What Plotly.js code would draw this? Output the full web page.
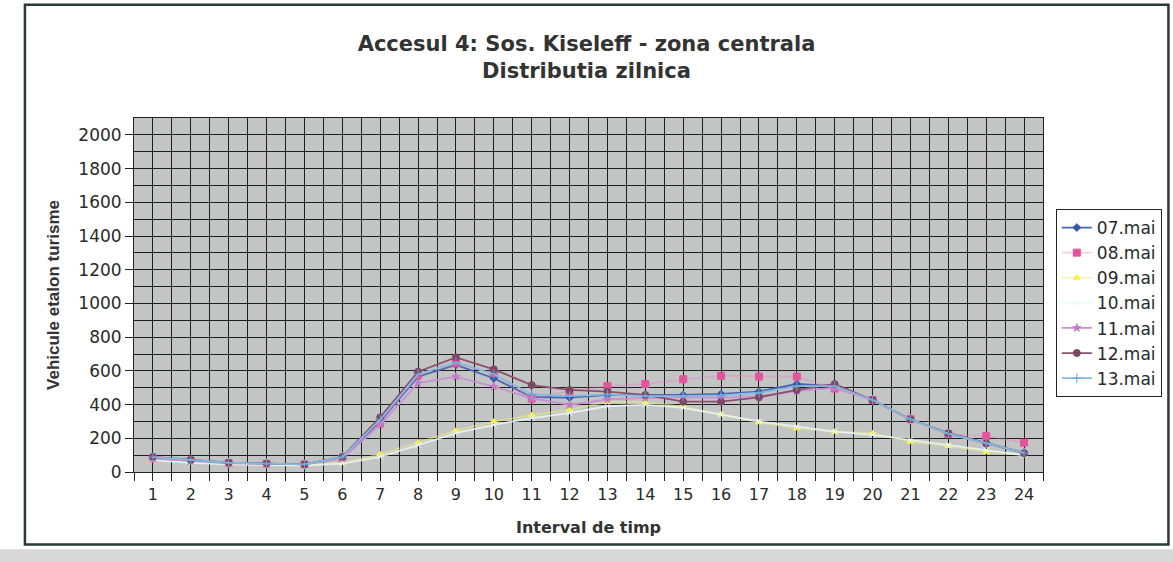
<!DOCTYPE html>
<html>
<head>
<meta charset="utf-8">
<script src="https://cdn.plot.ly/plotly-3.0.1.min.js"></script>
<style>html,body{margin:0;padding:0;background:#fff;}#chart{width:1173px;height:562px;}</style>
</head>
<body>
<div id="chart"></div>
<script>
var intervals = [1,2,3,4,5,6,7,8,9,10,11,12,13,14,15,16,17,18,19,20,21,22,23,24];
var seriesNames = ["07.mai","08.mai","09.mai","10.mai","11.mai","12.mai","13.mai"];
var mai07 = [85,70,55,50,45,85,300,565,635,556,445,441,457,457,457,463,477,522,510,427,313,230,174,115];
var mai08 = [80,68,52,48,45,80,290,575,645,586,435,480,510,522,550,570,566,566,495,427,313,225,214,174];
var mai09 = [75,60,48,42,40,55,105,175,245,299,338,368,417,415,388,342,295,259,239,230,180,154,120,100];
var mai10 = [70,55,45,40,38,50,90,160,230,280,320,350,390,400,380,340,300,270,240,220,190,160,130,100];
var mai11 = [80,65,52,48,45,80,280,528,566,506,437,398,430,440,445,440,450,480,500,427,313,225,170,115];
var mai12 = [90,72,55,50,45,90,324,595,680,609,516,487,477,457,417,417,443,487,522,427,313,230,170,111];
var mai13 = [88,70,55,50,45,88,310,580,650,580,460,450,460,450,450,455,470,510,510,427,313,228,172,113];
var yTickVals = [0,200,400,600,800,1000,1200,1400,1600,1800,2000];

var values = [mai07, mai08, mai09, mai10, mai11, mai12, mai13];
var lineColors = ["#4a64b4","rgba(230,120,190,0.35)","rgba(240,240,120,0.5)","rgba(235,250,250,0.8)","#c890d4","#8c5070","#84bce0"];
var markerColors = ["#3c56a8","#e4549c","#f4f048","#e6f6f6","#c47cc8","#7e4864","#6aa8d8"];
var symbols = ["diamond","square","triangle-up","x-thin-open","star","circle","cross-thin-open"];
var sizes = [6,7,6,6,6,7,7];

var baseFont = "'DejaVu Sans', Arial, sans-serif";

var traces = seriesNames.map(function(n,i){
  return {
    x: intervals, y: values[i], name: n, type: "scatter", mode: "lines+markers",
    line: {color: lineColors[i], width: 1.8},
    marker: {color: markerColors[i], symbol: symbols[i], size: sizes[i], line:{color: markerColors[i], width:1}}
  };
});

var layout = {
  width: 1173, height: 562,
  paper_bgcolor: "#ffffff",
  plot_bgcolor: "#c3c5c5",
  margin: {l: 134, r: 129, t: 118, b: 90},
  font: {family: baseFont, color: "#2a2a2a"},
  title: {
    text: "<b>Accesul 4: Sos. Kiseleff - zona centrala<br>Distributia zilnica</b>",
    font: {size: 21, color: "#333", family: baseFont},
    x: 0.5, xref: "container", y: 0.909, yanchor: "top"
  },
  xaxis: {
    range: [0.5, 24.5], tickmode: "array", tickvals: intervals,
    ticktext: intervals.map(String),
    showgrid: true, gridcolor: "#1e1e1e", gridwidth: 1,
    minor: {dtick: 0.5, tick0: 0.5, showgrid: true, gridcolor: "#1e1e1e", gridwidth: 1, ticks: "outside", ticklen: 8, tickcolor: "#222"},
    ticks: "outside", ticklen: 8, tickcolor: "#222",
    tickfont: {size: 16, color: "#2a2a2a"},
    showline: true, linecolor: "#222", linewidth: 1, mirror: true,
    zeroline: false,
    title: {text: "<b>Interval de timp</b>", font: {size: 16, color: "#333"}, standoff: 18}
  },
  yaxis: {
    range: [0, 2100], tickmode: "array", tickvals: yTickVals,
    showgrid: true, gridcolor: "#1e1e1e", gridwidth: 1,
    minor: {dtick: 100, tick0: 0, showgrid: true, gridcolor: "#1e1e1e", gridwidth: 1},
    ticks: "outside", ticklen: 8, tickcolor: "#222",
    tickfont: {size: 17, color: "#2a2a2a"},
    showline: true, linecolor: "#222", linewidth: 1, mirror: true,
    zeroline: false,
    title: {text: "<b>Vehicule etalon turisme</b>", font: {size: 17, color: "#333", family: "'Liberation Sans Narrow', 'Arial Narrow', 'Liberation Sans', Arial, sans-serif"}, standoff: 14}
  },
  legend: {
    x: 1.013, xanchor: "left", xref: "paper", y: 0.743, yanchor: "top",
    bgcolor: "#ffffff", bordercolor: "#222", borderwidth: 1,
    font: {size: 17, color: "#2a2a2a"}, tracegroupgap: 0, itemwidth: 30
  },
  shapes: [
    {type: "rect", xref: "paper", yref: "paper", x0: -0.12, x1: 1.138, y0: -0.205, y1: 1.32, line: {color: "#2a3a3a", width: 2.5}, fillcolor: "rgba(0,0,0,0)", layer: "below"},
    {type: "rect", xref: "paper", yref: "paper", x0: -0.16, x1: 1.16, y0: -0.26, y1: -0.218, line: {width: 0}, fillcolor: "#d8d8d8", layer: "below"}
  ],
  showlegend: true
};

Plotly.newPlot("chart", traces, layout, {displayModeBar: false, staticPlot: true});
</script>
</body>
</html>
